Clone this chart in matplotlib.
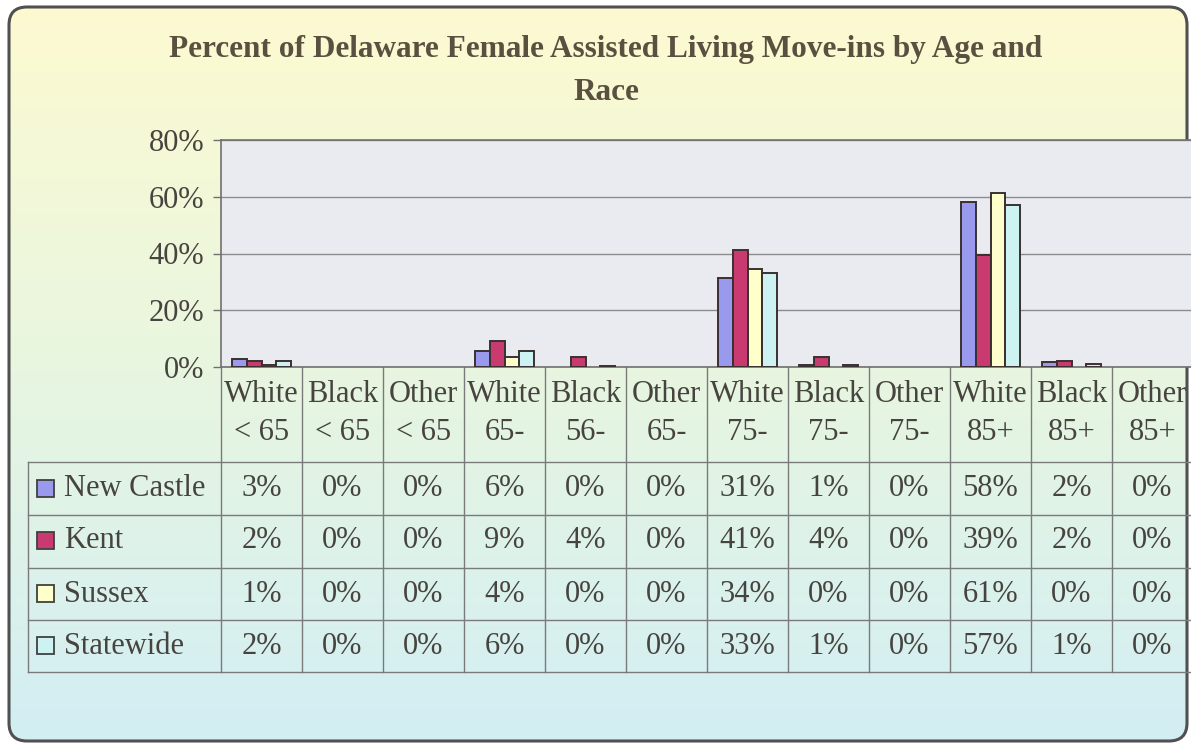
import matplotlib
matplotlib.use("Agg")
import matplotlib.pyplot as plt
import numpy as np
from matplotlib.patches import FancyBboxPatch, Rectangle
from matplotlib.colors import LinearSegmentedColormap
from matplotlib.transforms import blended_transform_factory

# ---------------- data ----------------
cat_top = ["White", "Black", "Other", "White", "Black", "Other",
           "White", "Black", "Other", "White", "Black", "Other"]
cat_bottom = ["< 65", "< 65", "< 65", "65-", "56-", "65-",
              "75-", "75-", "75-", "85+", "85+", "85+"]
series_names = ["New Castle", "Kent", "Sussex", "Statewide"]
new_castle = [2.7, 0.0, 0.0, 5.6, 0.0, 0.0, 31.2, 0.7, 0.0, 58.0, 1.6, 0.0]
kent       = [2.2, 0.0, 0.0, 9.0, 3.6, 0.0, 41.4, 3.6, 0.0, 39.4, 2.0, 0.0]
sussex     = [0.8, 0.0, 0.0, 3.6, 0.0, 0.0, 34.4, 0.0, 0.0, 61.2, 0.0, 0.0]
statewide  = [2.1, 0.0, 0.0, 5.6, 0.4, 0.0, 33.2, 0.6, 0.0, 57.2, 1.0, 0.0]
series_values = [new_castle, kent, sussex, statewide]
y_ticks = [0, 20, 40, 60, 80]
title_lines = ["Percent of Delaware Female Assisted Living Move-ins by Age and", "Race"]

# ---------------- styling ----------------
colors = ["#9999EE", "#C83A70", "#FFFFCC", "#CCF2F2"]
edge = "#3a3030"
txt = "#474440"
title_col = "#5a5040"

plt.rcParams['font.family'] = ['Liberation Serif', 'DejaVu Serif']

W, H = 1191, 744
fig = plt.figure(figsize=(W / 100, H / 100), dpi=100)

def fx(px):
    return px / W

def fy(py):
    return 1 - py / H

# background with rounded gradient box
bg = fig.add_axes([0, 0, 1, 1], zorder=0)
bg.set_xlim(0, W)
bg.set_ylim(H, 0)
bg.axis('off')
grad = np.linspace(0, 1, 256)[:, None]
cmap = LinearSegmentedColormap.from_list('g', ['#FDFAD0', '#E8F6E0', '#D2EEF4'])
im = bg.imshow(grad, extent=[0, W, H, 0], cmap=cmap, aspect='auto', zorder=0)
box = FancyBboxPatch((9, 7), 1178, 734, boxstyle="round,pad=0,rounding_size=18",
                     fc='none', ec='#505050', lw=2.2, zorder=5)
bg.add_patch(box)
im.set_clip_path(box)

# title
bg.text(606, 50, title_lines[0], ha='center', va='center', fontsize=22.5,
        fontweight='bold', color=title_col, zorder=6)
bg.text(606, 92, title_lines[1], ha='center', va='center', fontsize=22.5,
        fontweight='bold', color=title_col, zorder=6)

# main axes
L, R, T, B = 221, 1193, 140, 367
ax = fig.add_axes([fx(L), fy(B), fx(R) - fx(L), fy(T) - fy(B)], zorder=1)
ax.set_facecolor('#E9EBF1')
n = len(cat_top)
ax.set_xlim(-0.5, n - 0.5)
ax.set_ylim(0, 80)
x = np.arange(n)
bw = 0.18
for k, (vals, c) in enumerate(zip(series_values, colors)):
    v = np.asarray(vals)
    m = v > 0
    ax.bar(x[m] + (k - 1.5) * bw, v[m], width=bw, color=c, edgecolor=edge,
           linewidth=1.4, zorder=3)
ax.set_yticks(y_ticks)
ax.set_yticklabels([f"{v}%" for v in y_ticks], fontsize=22, color=txt)
ax.yaxis.grid(True, color='#8c8c8c', lw=1.0, zorder=1)
ax.set_axisbelow(True)
ax.set_xticks([])
ax.tick_params(axis='y', length=6, width=1, color='#707070', pad=6, direction='out')
for s in ['left', 'top', 'bottom']:
    ax.spines[s].set_color('#707070')
    ax.spines[s].set_linewidth(1.2)
ax.spines['right'].set_visible(False)

# data table
tr = blended_transform_factory(ax.transData, bg.transData)
line_col = '#7a7a7a'
row_lines = [462, 515, 568, 620, 672]
row_centers = [489, 541, 594, 646]
for i in range(n + 1):
    bg.plot([i - 0.5, i - 0.5], [B, row_lines[-1]], color=line_col, lw=1.0,
            transform=tr, zorder=6, clip_on=False)
bg.plot([28, 28], [row_lines[0], row_lines[-1]], color=line_col, lw=1.0, zorder=6)
for yl in row_lines:
    bg.plot([28, R], [yl, yl], color=line_col, lw=1.0, zorder=6)

fs = 22
for i in range(n):
    bg.text(i, 395, cat_top[i], ha='center', va='center', fontsize=fs,
            color=txt, transform=tr, zorder=7)
    bg.text(i, 433, cat_bottom[i], ha='center', va='center', fontsize=fs,
            color=txt, transform=tr, zorder=7)

for r, (name, vals, c) in enumerate(zip(series_names, series_values, colors)):
    yc = row_centers[r]
    bg.add_patch(Rectangle((37, yc - 9), 17, 17, fc=c, ec='#404040', lw=1.3, zorder=7))
    bg.text(64, yc, name, ha='left', va='center', fontsize=fs, color=txt, zorder=7)
    for i, v in enumerate(vals):
        bg.text(i, yc, f"{v:.0f}%", ha='center', va='center', fontsize=fs,
                color=txt, transform=tr, zorder=7)

fig.savefig("out.png", dpi=100)
